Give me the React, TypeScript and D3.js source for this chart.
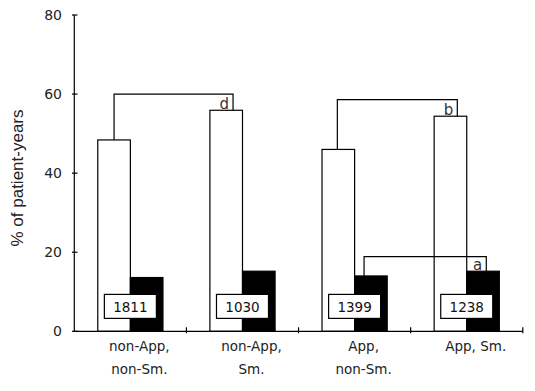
import React, { useRef, useEffect } from 'react';
import * as d3 from 'd3';

// chart data
const categories = ['non-App,\nnon-Sm.', 'non-App,\nSm.', 'App,\nnon-Sm.', 'App, Sm.'];
const series = ['open', 'filled'];
const openValues = [48.4, 55.9, 46.0, 54.4];
const filledValues = [13.6, 15.2, 14.0, 15.2];
const countLabels = ['1811', '1030', '1399', '1238'];
const yTicks = [0, 20, 40, 60, 80];

// significance brackets: from bar -> to bar, at a given level
const brackets = [
  { from: [0, 'open'], to: [1, 'open'], level: 60, fromAt: 0.5, toAt: 0.71, label: 'd' },
  { from: [2, 'open'], to: [3, 'open'], level: 58.6, fromAt: 0.47, toAt: 0.71, label: 'b' },
  { from: [2, 'filled'], to: [3, 'filled'], level: 18.9, fromAt: 0.29, toAt: 0.6, label: 'a' },
];

const App = () => {
  const svgRef = useRef<SVGSVGElement>(null);

  useEffect(() => {
    const width = 535;
    const height = 391;
    const svg = d3.select(svgRef.current);
    svg.selectAll('*').remove();
    svg.attr('width', width).attr('height', height);

    const font = '"DejaVu Sans", Verdana, sans-serif';
    const ink = '#111';

    const x = d3.scaleBand<number>()
      .domain(d3.range(categories.length))
      .range([74.3, 522.8])
      .padding(0);

    const x1 = d3.scaleBand<string>()
      .domain(series)
      .range([0, x.bandwidth()])
      .paddingInner(0)
      .paddingOuter(0.72);

    const y = d3.scaleLinear().domain([0, 80]).range([331.3, 15]);

    const values: Record<string, number[]> = { open: openValues, filled: filledValues };

    const g = svg.append('g');

    // bars
    series.forEach(s => {
      g.selectAll(`rect.${s}`)
        .data(values[s])
        .join('rect')
        .attr('class', s)
        .attr('x', (d, i) => x(i)! + x1(s)!)
        .attr('y', d => y(d))
        .attr('width', x1.bandwidth())
        .attr('height', d => y(0) - y(d))
        .attr('fill', s === 'open' ? '#fff' : '#000')
        .attr('stroke', '#000')
        .attr('stroke-width', 1.2);
    });

    // count boxes
    const boxW = 52;
    const boxH = 24;
    const boxLevel = 6.3;
    const boxes = g.selectAll('g.count')
      .data(countLabels)
      .join('g')
      .attr('class', 'count')
      .attr('transform', (d, i) => `translate(${x(i)! + x.bandwidth() / 2},${y(boxLevel)})`);
    boxes.append('rect')
      .attr('x', -boxW / 2)
      .attr('y', -boxH / 2)
      .attr('width', boxW)
      .attr('height', boxH)
      .attr('fill', '#fff')
      .attr('stroke', '#000')
      .attr('stroke-width', 1.2);
    boxes.append('text')
      .attr('text-anchor', 'middle')
      .attr('dy', '0.36em')
      .attr('y', 0.5)
      .style('font-family', font)
      .style('font-size', '13.5px')
      .style('fill', ink)
      .text(d => d);

    // brackets
    const barX = (i: number, s: string, at: number) => x(i)! + x1(s)! + x1.bandwidth() * at;
    brackets.forEach(b => {
      const [fi, fs] = b.from as [number, string];
      const [ti, ts] = b.to as [number, string];
      const x0 = barX(fi, fs, b.fromAt);
      const xe = barX(ti, ts, b.toAt);
      const yl = y(b.level);
      const path = d3.path();
      path.moveTo(x0, y(values[fs][fi]));
      path.lineTo(x0, yl);
      path.lineTo(xe, yl);
      path.lineTo(xe, y(values[ts][ti]));
      g.append('path')
        .attr('d', path.toString())
        .attr('fill', 'none')
        .attr('stroke', '#000')
        .attr('stroke-width', 1.2);
      g.append('text')
        .attr('x', xe - 4)
        .attr('y', y(values[ts][ti]) - 1.5)
        .attr('text-anchor', 'end')
        .style('font-family', font)
        .style('font-size', '15px')
        .style('fill', '#333')
        .text(b.label);
    });

    // y axis
    const yAxis = svg.append('g');
    yAxis.append('line')
      .attr('x1', 74.3).attr('x2', 74.3)
      .attr('y1', y(80)).attr('y2', y(0))
      .attr('stroke', '#000').attr('stroke-width', 1.2);
    yAxis.selectAll('line.tick')
      .data(yTicks)
      .join('line')
      .attr('class', 'tick')
      .attr('x1', 72).attr('x2', 77.5)
      .attr('y1', d => y(d)).attr('y2', d => y(d))
      .attr('stroke', '#000').attr('stroke-width', 1.2);
    yAxis.selectAll('text')
      .data(yTicks)
      .join('text')
      .attr('x', 62)
      .attr('y', d => y(d))
      .attr('dy', '0.36em')
      .attr('text-anchor', 'end')
      .style('font-family', font)
      .style('font-size', '14px')
      .style('fill', '#222')
      .text(d => d);

    // x axis
    const [r0, r1] = x.range();
    const xAxis = svg.append('g');
    xAxis.append('line')
      .attr('x1', r0).attr('x2', r1)
      .attr('y1', y(0)).attr('y2', y(0))
      .attr('stroke', '#000').attr('stroke-width', 1.2);
    const tickXs = x.domain().slice(1).map(i => x(i)!).concat([r1]);
    xAxis.selectAll('line.tick')
      .data(tickXs)
      .join('line')
      .attr('class', 'tick')
      .attr('x1', d => d).attr('x2', d => d)
      .attr('y1', y(0) - 4).attr('y2', y(0) + 2)
      .attr('stroke', '#000').attr('stroke-width', 1.2);
    const catText = xAxis.selectAll('text')
      .data(categories)
      .join('text')
      .attr('text-anchor', 'middle')
      .style('font-family', font)
      .style('font-size', '13.5px')
      .style('fill', '#222');
    catText.each(function (d, i) {
      const t = d3.select(this);
      d.split('\n').forEach((line, k) => {
        t.append('tspan')
          .attr('x', x(i)! + x.bandwidth() / 2 + 9)
          .attr('y', 351 + k * 23)
          .text(line);
      });
    });

    // y label
    svg.append('text')
      .attr('transform', `translate(23,178) rotate(-90)`)
      .attr('text-anchor', 'middle')
      .style('font-family', '"Liberation Sans", Arial, sans-serif')
      .style('font-size', '17px')
      .style('fill', '#222')
      .text('% of patient-years');
  }, []);

  return (
    <svg ref={svgRef} style={{ position: 'absolute', left: 0, top: 0, background: '#fff' }} />
  );
};

export default App;
